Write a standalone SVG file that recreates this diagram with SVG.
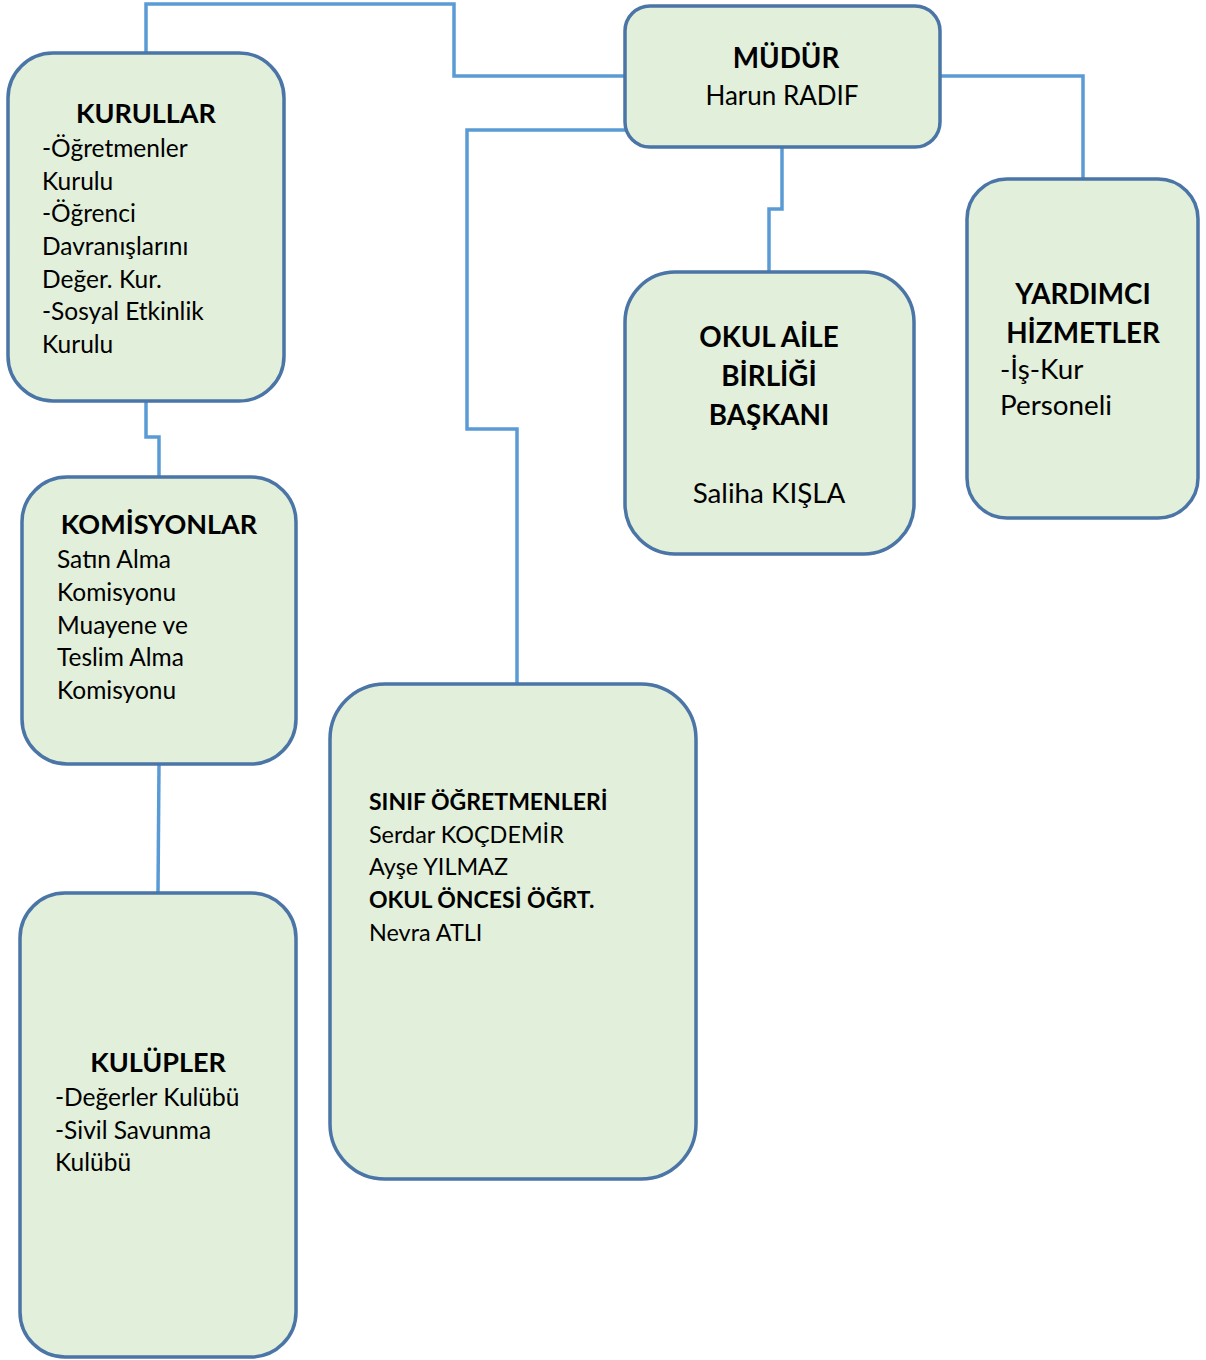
<svg xmlns="http://www.w3.org/2000/svg" width="1206" height="1360" viewBox="0 0 1206 1360">
<style>
.box{fill:#e2efda;stroke:#4a75a6;stroke-width:3.5}
.con{fill:none;stroke:#5b9bd5;stroke-width:3.5}
text{font-family:Lato,"Open Sans","Liberation Sans",sans-serif;font-size:24.5px;fill:#000}
.b{font-weight:bold}
.c{text-anchor:middle}
.h{font-size:27px;font-weight:bold}
.l{font-size:27.8px}
.s{font-size:23.4px}
</style>
<rect width="1206" height="1360" fill="#fff"/>
<g id="connectors">
<polyline class="con" points="146,53 146,4 454,4 454,76 625,76"/>
<polyline class="con" points="625,130 467,130 467,429 517,429 517,684"/>
<polyline class="con" points="782,147 782,209 769,209 769,272"/>
<polyline class="con" points="940,76 1083,76 1083,179"/>
<polyline class="con" points="146,401 146,437 159,437 159,477"/>
<polyline class="con" points="159,764 158,893"/>
</g>
<g id="mudur">
<rect class="box" x="625" y="6" width="315" height="141" rx="25"/>
<text class="b c l" x="786" y="68">MÜDÜR</text>
<text class="c" style="font-size:26px" x="782" y="105">Harun RADIF</text>
</g>
<g id="kurullar">
<rect class="box" x="8" y="53" width="276" height="348" rx="45"/>
<text class="h c" x="146" y="123">KURULLAR</text>
<text x="42" y="157">-Öğretmenler</text>
<text x="42" y="190">Kurulu</text>
<text x="42" y="222">-Öğrenci</text>
<text x="42" y="255">Davranışlarını</text>
<text x="42" y="288">Değer. Kur.</text>
<text x="42" y="320">-Sosyal Etkinlik</text>
<text x="42" y="353">Kurulu</text>
</g>
<g id="okul-aile">
<rect class="box" x="625" y="272" width="289" height="282" rx="50"/>
<text class="b c l" x="769" y="347">OKUL AİLE</text>
<text class="b c l" x="769" y="386">BİRLİĞİ</text>
<text class="b c l" x="769" y="425">BAŞKANI</text>
<text class="c l" x="769" y="503">Saliha KIŞLA</text>
</g>
<g id="yardimci">
<rect class="box" x="967" y="179" width="231" height="339" rx="40"/>
<text class="b c l" x="1083" y="304">YARDIMCI</text>
<text class="b c l" x="1083" y="343">HİZMETLER</text>
<text class="l" x="1000" y="379">-İş-Kur</text>
<text class="l" x="1000" y="415">Personeli</text>
</g>
<g id="komisyonlar">
<rect class="box" x="22" y="477" width="274" height="287" rx="45"/>
<text class="h c" x="159" y="534">KOMİSYONLAR</text>
<text x="57" y="568">Satın Alma</text>
<text x="57" y="601">Komisyonu</text>
<text x="57" y="634">Muayene ve</text>
<text x="57" y="666">Teslim Alma</text>
<text x="57" y="699">Komisyonu</text>
</g>
<g id="sinif">
<rect class="box" x="330" y="684" width="366" height="495" rx="55"/>
<text class="b" style="font-size:23px" x="369" y="810">SINIF ÖĞRETMENLERİ</text>
<text class="s" x="369" y="843">Serdar KOÇDEMİR</text>
<text class="s" x="369" y="875">Ayşe YILMAZ</text>
<text class="b" style="font-size:23px" x="369" y="908">OKUL ÖNCESİ ÖĞRT.</text>
<text class="s" x="369" y="941">Nevra ATLI</text>
</g>
<g id="kulupler">
<rect class="box" x="20" y="893" width="276" height="464" rx="45"/>
<text class="h c" x="158" y="1072">KULÜPLER</text>
<text x="55" y="1106">-Değerler Kulübü</text>
<text x="55" y="1139">-Sivil Savunma</text>
<text x="55" y="1171">Kulübü</text>
</g>
</svg>
